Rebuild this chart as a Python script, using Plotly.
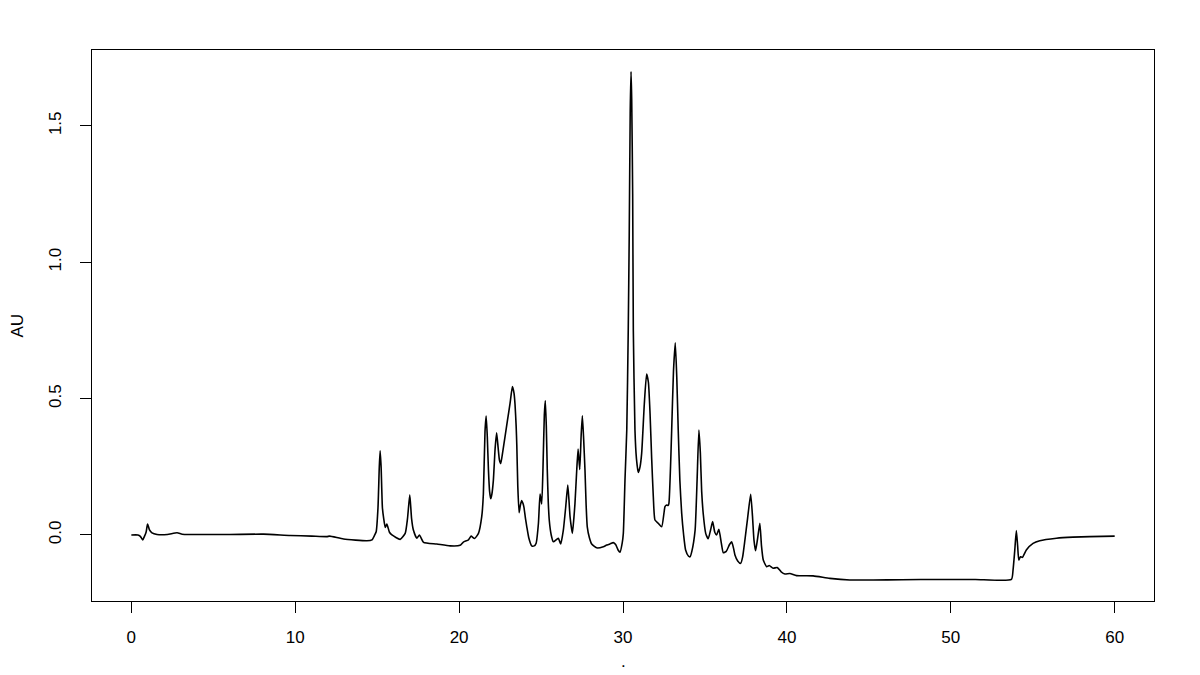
import plotly.graph_objects as go

# Retention time (min) and absorbance (AU)
time_min = [
    0.00, 0.40, 0.55, 0.69, 0.80, 0.90, 0.99, 1.10, 1.26, 1.57, 2.20, 2.79, 3.10, 3.60, 6.00,
    8.07, 9.70, 11.00, 11.93, 12.10, 12.95, 14.37, 14.68, 14.85, 14.94, 15.05, 15.13, 15.18,
    15.24, 15.32, 15.40, 15.49, 15.59, 15.75, 15.90, 16.40, 16.71, 16.85, 16.99, 17.10, 17.21,
    17.42, 17.58, 17.83, 18.64, 19.45, 20.06, 20.26, 20.57, 20.73, 20.94, 21.18, 21.38, 21.48,
    21.58, 21.65, 21.72, 21.79, 21.86, 21.93, 22.00, 22.09, 22.20, 22.29, 22.38, 22.46, 22.54,
    22.65, 22.80, 22.95, 23.11, 23.25, 23.35, 23.41, 23.48, 23.52, 23.58, 23.66, 23.74, 23.82,
    23.90, 23.96, 24.05, 24.13, 24.25, 24.43, 24.58, 24.70, 24.84, 24.94, 25.04, 25.12, 25.20,
    25.26, 25.32, 25.38, 25.44, 25.50, 25.62, 25.75, 26.05, 26.20, 26.36, 26.50, 26.63, 26.70,
    26.77, 26.91, 27.00, 27.07, 27.17, 27.26, 27.36, 27.45, 27.52, 27.60, 27.68, 27.75, 27.82,
    27.95, 28.09, 28.39, 28.80, 29.00, 29.20, 29.41, 29.55, 29.70, 29.82, 29.95, 30.02, 30.12,
    30.23, 30.32, 30.38, 30.44, 30.49, 30.53, 30.59, 30.63, 30.73, 30.82, 30.93, 31.04, 31.14,
    31.30, 31.44, 31.55, 31.65, 31.75, 31.85, 31.95, 32.15, 32.36, 32.50, 32.56, 32.66, 32.75,
    32.80, 32.90, 32.97, 33.08, 33.19, 33.28, 33.37, 33.47, 33.58, 33.70, 33.82, 34.00, 34.09,
    34.20, 34.40, 34.52, 34.63, 34.72, 34.80, 34.90, 35.05, 35.20, 35.35, 35.47, 35.60, 35.71,
    35.85, 36.00, 36.12, 36.30, 36.50, 36.63, 36.75, 36.83, 37.00, 37.18, 37.30, 37.44, 37.60,
    37.79, 37.90, 37.99, 38.09, 38.22, 38.35, 38.45, 38.56, 38.76, 38.92, 39.16, 39.41, 39.65,
    39.88, 40.18, 40.59, 41.60, 42.62, 43.84, 45.26, 47.00, 49.33, 51.50, 53.70, 53.80, 53.90,
    54.00, 54.08, 54.15, 54.25, 54.37, 54.61, 55.02, 55.43, 56.45, 57.46, 58.48, 60.00,
]
absorbance_au = [
    0.000, 0.000, -0.005, -0.018, -0.005, 0.010, 0.040, 0.020, 0.008, 0.002, 0.002, 0.008, 0.003, 0.002, 0.002,
    0.003, -0.002, -0.004, -0.006, -0.004, -0.015, -0.021, -0.018, 0.000, 0.012, 0.100, 0.250, 0.309,
    0.250, 0.100, 0.060, 0.028, 0.040, 0.010, 0.000, -0.016, 0.006, 0.060, 0.147, 0.060, 0.018,
    -0.012, 0.000, -0.027, -0.033, -0.040, -0.038, -0.026, -0.018, -0.004, -0.013, 0.006, 0.067, 0.150,
    0.380, 0.436, 0.360, 0.238, 0.160, 0.133, 0.150, 0.200, 0.320, 0.375, 0.320, 0.275, 0.262,
    0.300, 0.360, 0.420, 0.483, 0.544, 0.520, 0.480, 0.400, 0.330, 0.180, 0.082, 0.110, 0.126,
    0.115, 0.100, 0.060, 0.030, -0.010, -0.040, -0.040, -0.030, 0.043, 0.150, 0.114, 0.250, 0.440,
    0.493, 0.400, 0.238, 0.120, 0.055, 0.000, -0.025, -0.012, -0.033, 0.018, 0.100, 0.183, 0.130,
    0.067, 0.006, 0.060, 0.116, 0.230, 0.315, 0.240, 0.370, 0.437, 0.350, 0.238, 0.110, 0.030,
    -0.010, -0.033, -0.047, -0.043, -0.037, -0.033, -0.028, -0.035, -0.055, -0.063, -0.030, 0.006, 0.200,
    0.385, 0.750, 1.100, 1.550, 1.699, 1.600, 1.250, 0.750, 0.385, 0.280, 0.229, 0.250, 0.300,
    0.480, 0.590, 0.560, 0.446, 0.280, 0.140, 0.055, 0.043, 0.030, 0.080, 0.104, 0.110, 0.108,
    0.115, 0.250, 0.385, 0.600, 0.705, 0.580, 0.385, 0.200, 0.080, 0.000, -0.055, -0.078, -0.080,
    -0.060, 0.018, 0.200, 0.385, 0.300, 0.160, 0.075, 0.005, -0.014, 0.020, 0.049, 0.010, 0.000,
    0.021, -0.030, -0.065, -0.060, -0.035, -0.025, -0.050, -0.073, -0.095, -0.104, -0.080, -0.018, 0.060,
    0.149, 0.070, -0.018, -0.058, -0.010, 0.043, -0.040, -0.092, -0.116, -0.112, -0.122, -0.119, -0.135,
    -0.143, -0.141, -0.149, -0.150, -0.159, -0.165, -0.165, -0.164, -0.163, -0.163, -0.163, -0.128, -0.060,
    0.016, -0.040, -0.092, -0.080, -0.082, -0.055, -0.031, -0.021, -0.012, -0.008, -0.006, -0.004,
]

x_ticks = [0, 10, 20, 30, 40, 50, 60]
y_ticks = [0.0, 0.5, 1.0, 1.5]
y_tick_labels = ["0.0", "0.5", "1.0", "1.5"]

FONT = "Liberation Sans, Arial, Helvetica, sans-serif"

fig = go.Figure()
fig.add_trace(go.Scatter(
    x=time_min, y=absorbance_au, mode="lines",
    line=dict(color="black", width=1.6, shape="spline", smoothing=0.5),
    showlegend=False, hoverinfo="x+y",
))

axis_common = dict(
    showgrid=False, zeroline=False,
    showline=True, linecolor="black", linewidth=1.4, mirror=True,
    ticks="outside", ticklen=11, tickwidth=1, tickcolor="black",
    tickfont=dict(family=FONT, size=17, color="black"),
)

# The page body adds an 8px offset, so the figure is sized to end at the window edge.
fig.update_layout(
    width=1192, height=667,
    margin=dict(l=84, r=46, t=42, b=74, autoexpand=False),
    paper_bgcolor="white", plot_bgcolor="white",
    font=dict(family=FONT, color="black"),
    xaxis=dict(range=[-2.4, 62.4], tickvals=x_ticks, ticklabelstandoff=9, **axis_common),
    yaxis=dict(range=[-0.242, 1.778], tickvals=y_ticks, ticktext=y_tick_labels,
               tickangle=-90, ticklabelstandoff=12, **axis_common),
    annotations=[
        dict(text="AU", xref="paper", yref="paper", x=-0.0697, y=0.5,
             xanchor="center", yanchor="middle", textangle=-90, showarrow=False,
             font=dict(family=FONT, size=17, color="black")),
        dict(text=".", xref="paper", yref="paper", x=0.5, y=-0.11,
             xanchor="center", yanchor="middle", showarrow=False,
             font=dict(family=FONT, size=17, color="black")),
    ],
)

fig.write_html("out.html")
